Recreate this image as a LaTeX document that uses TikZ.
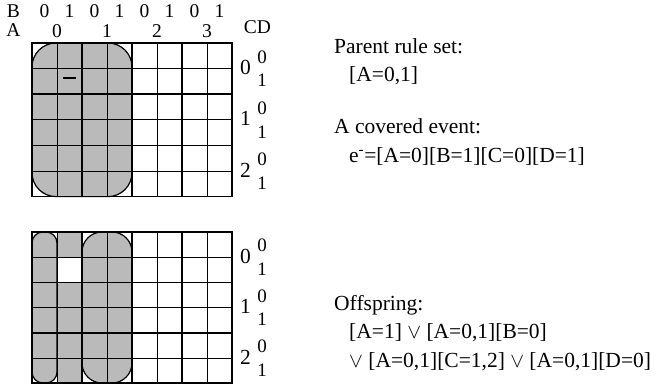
\documentclass[tikz,border=0pt]{standalone}
\usepackage{fontspec}
\setmainfont{Liberation Serif}
\begin{document}
\begin{tikzpicture}[x=1pt,y=-1pt,
  thinline/.style={line width=0.8pt},
  thickline/.style={line width=1.7pt},
  shaded/.style={fill=black!27},
  outline/.style={draw=black,line width=1.2pt},
  lbl/.style={font=\fontsize{19.5}{19.5}\selectfont,inner sep=0pt,anchor=base},
  bigl/.style={font=\fontsize{21.5}{21.5}\selectfont,inner sep=0pt},
  smalll/.style={font=\fontsize{19}{19}\selectfont,inner sep=0pt},
  txt/.style={font=\fontsize{21.5}{24}\selectfont,inner sep=0pt,anchor=base west}]
\useasboundingbox (0,0) rectangle (658,385);

% ---------- Grid 1 ----------
\path[shaded,outline,rounded corners=24pt] (32,43) rectangle (132,196.6);
\foreach \i in {1,3,5,7} \draw[thinline] ({32+25*\i},43) -- ++(0,153.6);
\foreach \i in {2,4,6} \draw[thickline] ({32+25*\i},43) -- ++(0,153.6);
\foreach \j in {1,3,5} \draw[thinline] (32,{43+25.6*\j}) -- ++(200,0);
\foreach \j in {2,4} \draw[thickline] (32,{43+25.6*\j}) -- ++(200,0);
\draw[thickline] (32,43) rectangle (232,196.6);
\draw[line width=2pt] (63,78.5) -- (76,78.5);

% ---------- Grid 2 ----------
\path[shaded,outline,rounded corners=11pt] (32,232) rectangle (57,383);
\path[shaded,outline,rounded corners=20pt] (82,232) rectangle (132,383);
\fill[black!27] (57,232) rectangle (82,257.2);
\fill[black!27] (57,282.4) rectangle (82,383);
\foreach \i in {1,3,5,7} \draw[thinline] ({32+25*\i},232) -- ++(0,151);
\foreach \i in {2,4,6} \draw[thickline] ({32+25*\i},232) -- ++(0,151);
\foreach \j in {1,3,5} \draw[thinline] (32,{232+25.2*\j}) -- ++(200,0);
\foreach \j in {2,4} \draw[thickline] (32,{232+25.2*\j}) -- ++(200,0);
\draw[thickline] (32,232) rectangle (232,383);

% ---------- Top labels ----------
\node[lbl] (lB) at (13.5,18) {B};
\foreach \i/\v in {0/0,1/1,2/0,3/1,4/0,5/1,6/0,7/1}
  \node[lbl] (b\i) at ({44.5+25*\i},18) {\v};
\node[lbl] (lA) at (13.5,37) {A};
\foreach \i in {0,1,2,3}
  \node[lbl] (a\i) at ({57+50*\i},37.5) {\i};
\node[lbl] (lCD) at (257.5,34) {CD};

% ---------- Right labels ----------
\foreach \k in {0,1,2} {
  \node[bigl] (c1-\k) at (245.5,{43+25.6*(2*\k+1)-1}) {\k};
  \node[smalll] (d1-\k-a) at (262,{43+25.6*(2*\k+1)-11.5}) {0};
  \node[smalll] (d1-\k-b) at (262,{43+25.6*(2*\k+1)+12}) {1};
  \node[bigl] (c2-\k) at (245.5,{232+25.2*(2*\k+1)-1}) {\k};
  \node[smalll] (d2-\k-a) at (262,{232+25.2*(2*\k+1)-11.5}) {0};
  \node[smalll] (d2-\k-b) at (262,{232+25.2*(2*\k+1)+12}) {1};
}

% ---------- Text ----------
\node[txt] (t1) at (334,54) {Parent rule set:};
\node[txt] (t2) at (349,82) {[A=0,1]};
\node[txt] (t3) at (334,134) {A covered event:};
\node[txt] (t4) at (349,162) {e\textsuperscript{-}=[A=0][B=1][C=0][D=1]};
\node[txt] (t5) at (334,310) {Offspring:};
\node[txt] (t6) at (349,338) {[A=1] $\vee$ [A=0,1][B=0]};
\node[txt] (t7) at (349,367) {$\vee$ [A=0,1][C=1,2] $\vee$ [A=0,1][D=0]};
\end{tikzpicture}
\end{document}
